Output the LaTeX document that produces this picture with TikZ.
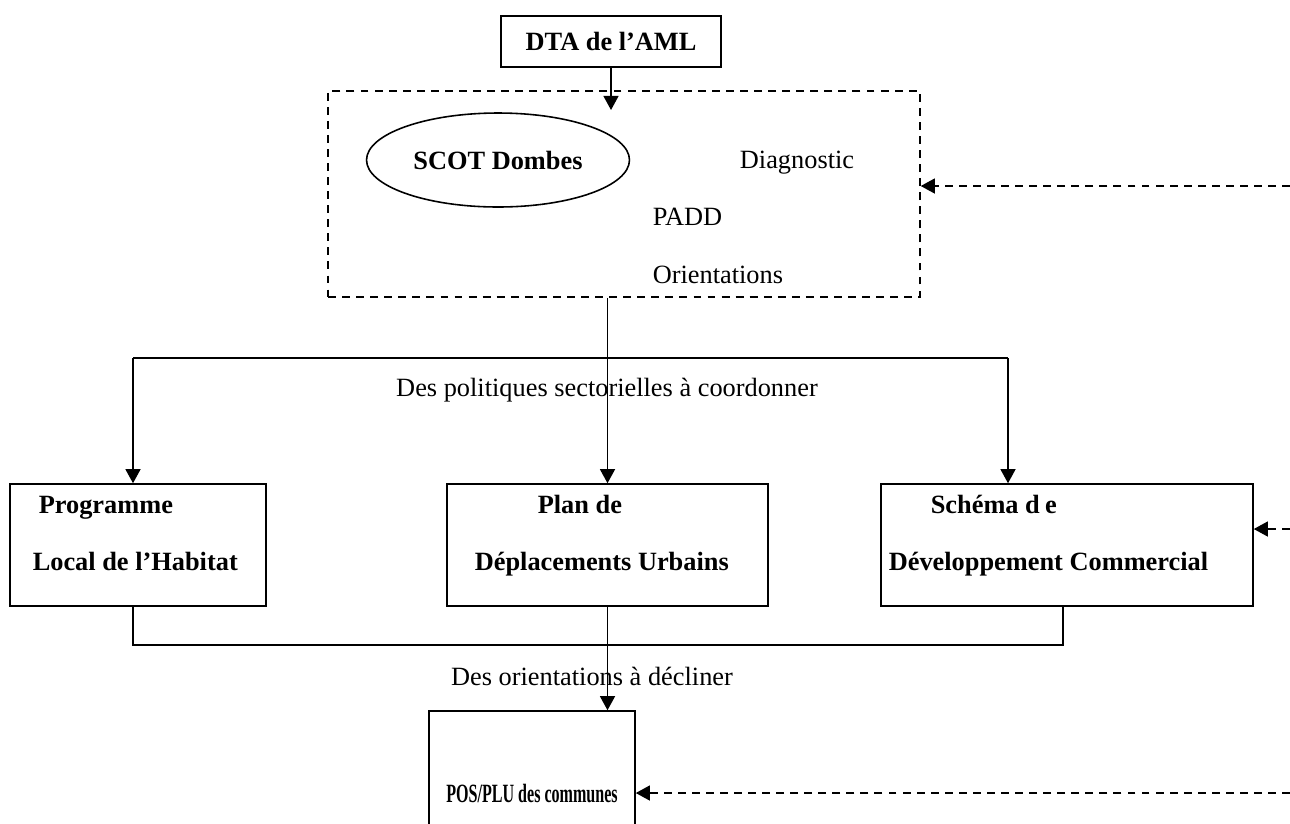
\documentclass[tikz,border=0pt]{standalone}
\usepackage{fontspec}
\setmainfont{Liberation Serif}
\usepackage{graphicx}
\usepackage{tikz}
\usetikzlibrary{arrows.meta,shapes.geometric,positioning}
\tikzset{bx/.style={draw,rectangle,line width=.9pt,inner sep=0pt},dsh/.style={dash pattern=on 4.5pt off 3.5pt,line width=.9pt}}

\begin{document}
\begin{tikzpicture}[x=0.02cm,y=-0.02cm,line width=.9pt,>={Triangle[length=8pt,width=8.5pt]},every node/.style={font=\fontsize{15}{18}\selectfont},lbl/.style={inner sep=0pt,anchor=base west,font=\fontsize{15}{18}\selectfont\bfseries}]
			\useasboundingbox (0,0) rectangle (1290,823);
			\clip (0,0) rectangle (1290,823);

			\node[bx,minimum width=4.4cm,minimum height=1.02cm,font=\fontsize{15}{18}\selectfont\bfseries] (dta) at (611,41.5) {DTA de l'AML};
			\node[bx,dsh,minimum width=11.84cm,minimum height=4.12cm] (zone) at (624,194) {};
			\node[draw,ellipse,minimum width=5.26cm,minimum height=1.88cm,inner sep=0pt,font=\fontsize{15}{18}\selectfont\bfseries] (scot) at (498,160) {SCOT Dombes};
			\node (diag) at (797,163) {Diagnostic};
			\node[anchor=west,inner sep=0pt] (padd) at (652,217) {PADD};
			\node[anchor=west,inner sep=0pt] (orient) at (652,275) {Orientations};

			\node[bx,minimum width=5.12cm,minimum height=2.44cm] (plh) at (138,545) {};
			\node[bx,minimum width=6.42cm,minimum height=2.44cm] (pdu) at (607.5,545) {};
			\node[bx,minimum width=7.44cm,minimum height=2.44cm] (sdc) at (1067,545) {};
			\node[lbl] (plh1) at (38,513) {Programme};
			\node[lbl] (plh2) at (32,570) {Local de l'Habitat};
			\node[lbl] (pdu1) at (537,513) {Plan de};
			\node[lbl] (pdu2) at (474,570) {Déplacements Urbains};
			\node[lbl] (sdc1) at (930,513) {Schéma d\kern3pt e};
			\node[lbl] (sdc2) at (888,570) {Développement Commercial};
			\node[bx,minimum width=4.12cm,minimum height=3.28cm,font=\fontsize{15}{18}\selectfont\bfseries] (pos) at (532,793) {\scalebox{0.61}[1]{POS/PLU des communes}};

			\node (pol) at (607,390) {Des politiques sectorielles à coordonner};
			\node (orc) at (592,676) {Des orientations à décliner};

			\coordinate (t1) at (611,110);
			\coordinate (hl) at (133,358);
			\coordinate (hr) at (1008,358);
			\coordinate (bl) at (133,645);
			\coordinate (br) at (1063,645);
			\coordinate (e1) at (1290,186);
			\coordinate (e2) at (1290,529);
			\coordinate (e3) at (1290,793);

			\draw[->] (dta.south) -- (t1);
			\draw (hl) -- (hr);
			\draw[->] (hl) -- (hl |- plh.north);
			\draw[->] (pdu.north |- zone.south) -- (pdu.north);
			\draw[->] (hr) -- (hr |- sdc.north);
			\draw (bl |- plh.south) -- (bl) -- (br) -- (br |- sdc.south);
			\draw[->] (pdu.south) -- (pdu.south |- pos.north);
			\draw[dsh,->] (e1) -- (zone.east |- e1);
			\draw[dsh,->] (e2) -- (sdc.east |- e2);
			\draw[dsh,->] (e3) -- (pos.east |- e3);
		\end{tikzpicture}
\end{document}
